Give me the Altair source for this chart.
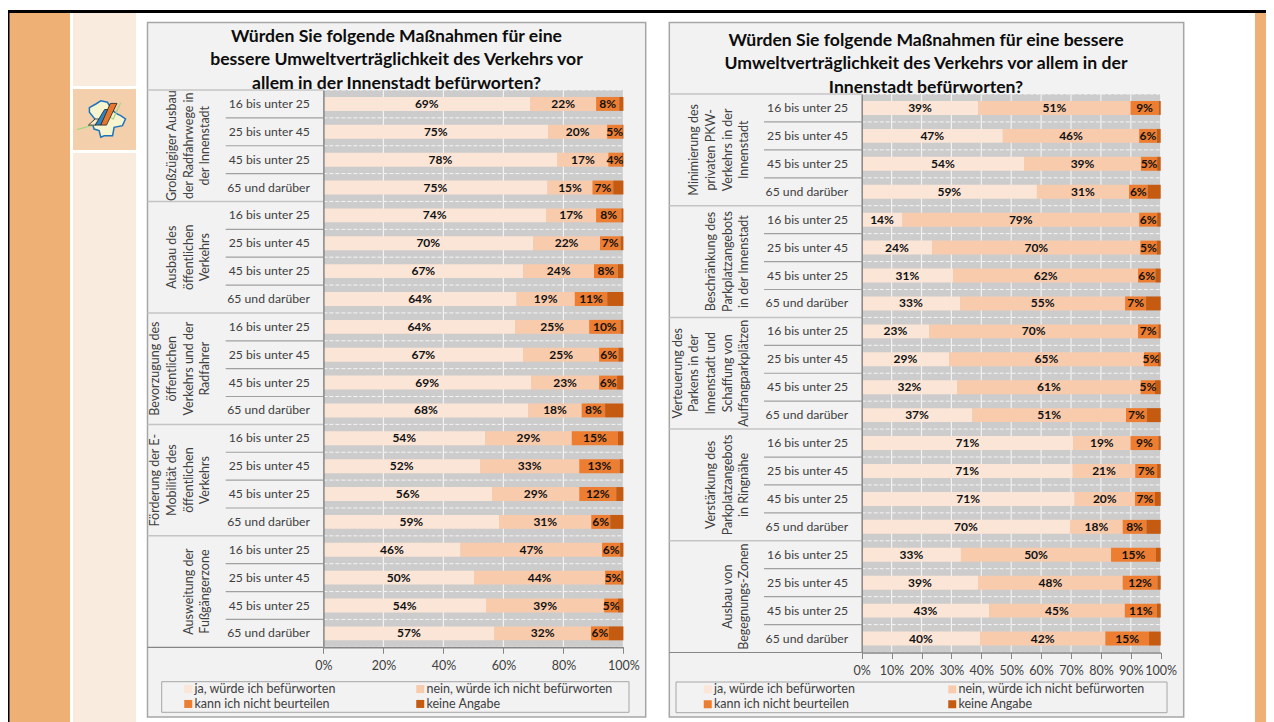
import altair as alt
import pandas as pd

FONT = "Lato"
W, H = 1258, 714

ages = ["16 bis unter 25", "25 bis unter 45", "45 bis unter 25", "65 und darüber"]
series = ["ja, würde ich befürworten", "nein, würde ich nicht befürworten",
          "kann ich nicht beurteilen", "keine Angabe"]
colors = ["#fbe5d6", "#f8cbad", "#ed7d31", "#c55a11"]

title_left = "Würden Sie folgende Maßnahmen für eine\nbessere Umweltverträglichkeit des Verkehrs vor\nallem in der Innenstadt befürworten?"
title_right = "Würden Sie folgende Maßnahmen für eine bessere\nUmweltverträglichkeit des Verkehrs vor allem in der\nInnenstadt befürworten?"

groups_left = ["Großzügiger Ausbau\nder Radfahrwege in\nder Innenstadt",
               "Ausbau des\nöffentlichen\nVerkehrs",
               "Bevorzugung des\nöffentlichen\nVerkehrs und der\nRadfahrer",
               "Förderung der E-\nMobilität des\nöffentlichen\nVerkehrs",
               "Ausweitung der\nFußgängerzone"]
groups_right = ["Minimierung des\nprivaten PKW-\nVerkehrs in der\nInnenstadt",
                "Beschränkung des\nParkplatzangebots\nin der Innenstadt",
                "Verteuerung des\nParkens in der\nInnenstadt und\nSchaffung von\nAuffangparkplätzen",
                "Verstärkung des\nParkplatzangebots\nin Ringnähe",
                "Ausbau von\nBegegnungs-Zonen"]

left_ja = [68.9, 74.9, 78.0, 74.7, 74.2, 69.9, 66.6, 64.4, 63.9, 66.6,
           69.2, 68.3, 53.9, 52.2, 56.2, 58.6, 45.7, 50.2, 54.2, 57.0]
left_nein = [22.0, 19.7, 17.0, 15.0, 16.7, 22.3, 23.6, 19.4, 24.7, 25.3,
             22.7, 17.8, 28.9, 33.1, 29.1, 30.7, 47.2, 43.7, 39.4, 32.2]
left_kann = [7.7, 5.0, 4.4, 6.9, 8.4, 6.8, 7.9, 10.8, 10.4, 6.4,
             6.0, 7.8, 15.4, 13.4, 12.3, 6.3, 6.0, 5.3, 4.6, 6.0]
left_keine = [1.4, 0.4, 0.6, 3.4, 0.7, 1.0, 1.9, 5.4, 1.0, 1.7,
              2.1, 6.1, 1.8, 1.3, 2.4, 4.4, 1.1, 0.8, 1.8, 4.8]

right_ja = [39.0, 47.2, 54.3, 58.6, 13.6, 23.6, 30.6, 32.9, 22.6, 29.2,
            31.9, 37.0, 70.7, 70.6, 71.2, 69.7, 33.2, 38.9, 42.6, 39.6]
right_nein = [50.9, 45.6, 39.1, 30.8, 79.2, 69.6, 61.8, 55.2, 69.8, 65.2,
              61.4, 51.4, 19.2, 20.9, 20.2, 17.6, 50.2, 48.4, 45.4, 41.9]
right_kann = [9.4, 5.9, 5.4, 6.2, 6.0, 5.4, 5.8, 7.0, 6.8, 4.7,
              4.8, 7.0, 9.3, 7.3, 6.7, 7.9, 15.0, 11.6, 10.7, 14.6]
right_keine = [0.7, 1.3, 1.2, 4.4, 1.2, 1.4, 1.8, 4.9, 0.8, 0.9,
               1.9, 4.6, 0.8, 1.2, 1.9, 4.8, 1.6, 1.1, 1.3, 3.9]

one = pd.DataFrame({"a": [0]})


def px(v):
    return alt.value(v - 8)


def box(x0, y0, x1, y1, fill, stroke=None, sw=0):
    kw = {"fill": fill}
    if stroke:
        kw.update(stroke=stroke, strokeWidth=sw)
    return alt.Chart(one).mark_rect(**kw).encode(x=px(x0), x2=px(x1), y=px(y0), y2=px(y1))


def logo_shape(path, cx, cy, r, fill=None, stroke=None, sw=1):
    kw = {"filled": fill is not None, "opacity": 1, "strokeWidth": sw, "shape": path,
          "size": (2 * r) ** 2}
    if fill:
        kw["fill"] = fill
    kw["stroke"] = stroke if stroke else "transparent"
    return alt.Chart(one).mark_point(**kw).encode(x=px(cx), y=px(cy))


def panel(cols, groups, title, pl, pr, pt, pb, box_rect, ticks, last_line_x, row_x, title_x, title_y,
          lg_rect, lg_x, lg_pad):
    rows = []
    for gi, g in enumerate(groups):
        for a in ages:
            rows.append(f"{gi}|{a}")
    recs = []
    for i, key in enumerate(rows):
        s = 0.0
        for name, col in zip(series, cols):
            v = col[i]
            recs.append({"key": key, "series": name, "start": s, "end": s + v, "mid": s + v / 2,
                         "label": f"{round(v)}%"})
            s += v
    df = pd.DataFrame(recs)
    txt = df[df.series != series[3]]

    xs = alt.Scale(domain=[0, 100], range=[pl - 8, pr - 8])
    ys = alt.Scale(domain=rows, range=[pt - 8, pb - 8], paddingInner=0.5, paddingOuter=0.25)
    ks = alt.Scale(domain=[0, 20], range=[pt - 8, pb - 8])
    gs = alt.Scale(domain=[str(i) for i in range(len(groups))], range=[pt - 8, pb - 8],
                   paddingInner=0, paddingOuter=0)

    kdf = pd.DataFrame({"k": list(range(21))})
    tdf = pd.DataFrame({"t": ticks})
    gdf = pd.DataFrame({"g": [str(i) for i in range(len(groups))], "text": groups})

    layers = [box(*box_rect, "#f2f2f2", "#a6a6a6", 1.5)]
    # plot area
    layers.append(alt.Chart(one.assign(a0=0, a1=100, k0=0, k1=20)).mark_rect(fill="#cdcccc").encode(
        x=alt.X("a0:Q", scale=xs, axis=None), x2="a1:Q",
        y=alt.Y("k0:Q", scale=ks, axis=None), y2="k1:Q"))
    layers.append(alt.Chart(tdf).mark_rule(color="#f2f2f2", strokeWidth=1.2).encode(
        x=alt.X("t:Q", scale=xs, axis=None), y=px(pt), y2=px(pb)))
    layers.append(alt.Chart(kdf).mark_rule(color="#f5f5f5", strokeWidth=1, strokeDash=[4, 2]).encode(
        y=alt.Y("k:Q", scale=ks, axis=None), x=px(pl), x2=px(pr)))
    # bars + axes + legend
    layers.append(alt.Chart(df).mark_bar().encode(
        x=alt.X("start:Q", scale=xs, title=None,
                axis=alt.Axis(orient="bottom", offset=-(H - (pb - 8)), values=ticks, grid=False,
                              labelExpr="datum.value + '%'", tickColor="#868686", tickSize=6,
                              domainColor="#868686", domainWidth=1.5, labelFont=FONT,
                              labelFontSize=12.5, labelColor="#404040", labelPadding=6,
                              labelFlush=False, zindex=1)),
        x2="end:Q",
        y=alt.Y("key:N", scale=ys, sort=None, title=None,
                axis=alt.Axis(orient="left", offset=-(pl - 8), ticks=False, grid=False,
                              labelExpr="split(datum.label, '|')[1]", domainColor="#868686",
                              domainWidth=1.5, labelFont=FONT, labelFontSize=12.2,
                              labelColor="#404040", labelPadding=14, labelLimit=200, zindex=1)),
        color=alt.Color("series:N", scale=alt.Scale(domain=series, range=colors),
                        legend=alt.Legend(orient="none", legendX=lg_x - 8, legendY=lg_rect[1] - 7,
                                          direction="horizontal", columns=2, title=None,
                                          symbolType="square", symbolSize=64, symbolStrokeWidth=0,
                                          labelFont=FONT, labelFontSize=12.5, labelColor="#404040",
                                          labelOffset=0, columnPadding=lg_pad, rowPadding=2,
                                          padding=0, labelLimit=300, zindex=2))))
    layers.append(alt.Chart(txt).mark_text(font=FONT, fontSize=12, fontWeight="bold", color="#111111").encode(
        x=alt.X("mid:Q", scale=xs, axis=None),
        y=alt.Y("key:N", scale=ys, sort=None, axis=None),
        text="label:N"))
    # category separators
    layers.append(alt.Chart(kdf[kdf.k % 4 != 0]).mark_rule(color="#a0a0a0", strokeWidth=1.2).encode(
        y=alt.Y("k:Q", scale=ks, axis=None), x=px(row_x), x2=px(pl)))
    layers.append(alt.Chart(kdf[(kdf.k % 4 == 0) & (kdf.k < 20)]).mark_rule(color="#c4c4c4", strokeWidth=1.5).encode(
        y=alt.Y("k:Q", scale=ks, axis=None), x=px(box_rect[0]), x2=px(pl)))
    layers.append(alt.Chart(kdf[kdf.k == 20]).mark_rule(color="#868686", strokeWidth=1.2).encode(
        y=alt.Y("k:Q", scale=ks, axis=None), x=px(box_rect[0]), x2=px(pl)))
    # group captions: the last line of every block sits on the same vertical
    for gi, g in enumerate(groups):
        n = g.count("\n")
        layers.append(alt.Chart(gdf[gdf.g == str(gi)]).mark_text(
            font=FONT, fontSize=12.5, color="#404040", angle=270, lineBreak="\n", lineHeight=16.7,
            align="center", baseline="bottom").encode(
            x=px(last_line_x - n * 16.7), y=alt.Y("g:N", scale=gs, sort=None, axis=None), text="text:N"))
    # legend frame, drawn before the legend itself
    layers.append(box(*lg_rect, "#f2f2f2", "#a6a6a6", 1))
    # title
    layers.append(alt.Chart(pd.DataFrame({"text": [title]})).mark_text(
        font=FONT, fontSize=17.6, fontWeight="bold", color="#0d0d0d", lineBreak="\n", lineHeight=23.3,
        align="center", baseline="top").encode(x=px(title_x), y=px(title_y), text="text:N"))
    return layers


layers = [
    box(8, 13, 70, 722, "#eeb074"),
    box(8, 10, 1274, 13, "#000000"),
    box(8, 13, 9.5, 722, "#000000"),
    box(73, 13, 136, 86, "#faebdf"),
    box(73, 89, 136, 150, "#f4cfab"),
    box(73, 153, 136, 722, "#faebdf"),
    box(1255, 13, 1274, 722, "#eeb074"),
]

# small map logo
blob = "M-0.9,-0.6 L-0.56,-0.79 L-0.3,-0.96 L0.05,-0.88 L0.32,-0.44 L0.58,-0.26 L0.75,-0.18 L1,0 L0.84,0.35 L0.4,0.44 L0.32,0.88 L-0.12,0.88 L-0.3,0.96 L-0.39,0.61 L-0.65,0.53 L-0.74,0.26 L-0.61,0 L-0.9,-0.35 Z"
bars1 = "M-0.95,0.32 L-0.6,0 L-0.25,0 L-0.6,0.32 Z"
bars2 = "M-0.6,0.32 L-0.1,-0.5 L0.1,-0.5 L-0.3,0.32 Z"
bars3 = "M-0.3,0.32 L0.2,-0.82 L0.55,-0.82 L0,0.32 Z"
green = "M-1.55,0.56 L-1,0.4 L-0.6,0.3 L-0.1,0.1 L0.2,-0.1 L0.35,0 L0.75,-0.85"
layers += [
    logo_shape(blob, 106.5, 119, 19, fill="#f7f5d0", stroke="#1b75bc", sw=1.5),
    logo_shape(green, 106.5, 119, 19, stroke="#a6d785", sw=1.2),
    logo_shape(bars1, 106.5, 119, 19, fill="#f5e6c8", stroke="#222222", sw=0.8),
    logo_shape(bars2, 106.5, 119, 19, fill="#2e86c1", stroke="#222222", sw=0.8),
    logo_shape(bars3, 106.5, 119, 19, fill="#e8772e", stroke="#222222", sw=0.8),
]

layers += panel([left_ja, left_nein, left_kann, left_keine], groups_left, title_left,
                323.4, 623.4, 90, 647.3, (147.5, 22.5, 645.7, 717), list(range(0, 101, 20)),
                212.5, 225.7, 396.5, 28, (161.7, 681.7, 629, 712.3), 182, 78)
layers += panel([right_ja, right_nein, right_kann, right_keine], groups_right, title_right,
                861.7, 1160.7, 94, 652.5, (669.3, 22.5, 1183.7, 717), list(range(0, 101, 10)),
                751.5, 764, 926, 32, (676, 682, 1167, 712.7), 701.5, 90.5)

chart = (
    alt.layer(*layers)
    .resolve_scale(x="independent", y="independent", color="independent")
    .resolve_axis(x="independent", y="independent")
    .resolve_legend(color="independent")
    .properties(width=W, height=H, padding=0, background="#ffffff",
                autosize=alt.AutoSizeParams(type="none"))
    .configure_view(stroke=None)
)
chart.save("out.html", embed_options={"renderer": "svg", "actions": False})
